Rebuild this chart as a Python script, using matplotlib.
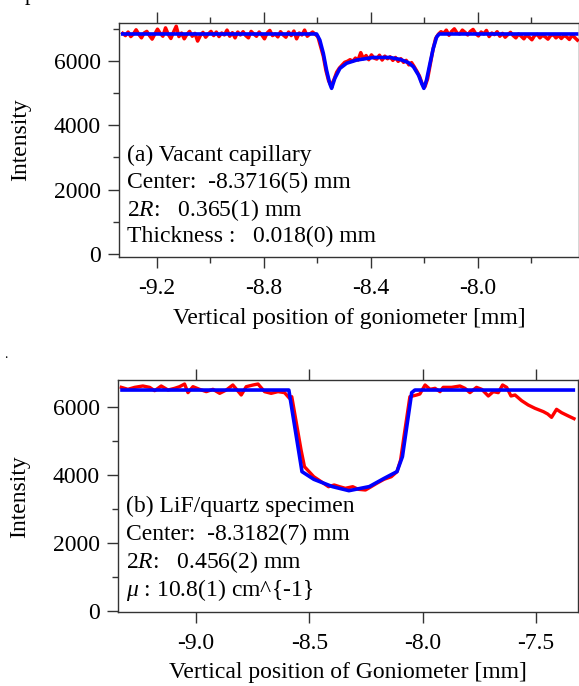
import numpy as np
import matplotlib
matplotlib.use("Agg")
import matplotlib.pyplot as plt
from matplotlib.ticker import MultipleLocator

plt.rcParams['font.family'] = ['Liberation Serif', 'DejaVu Serif']
plt.rcParams['axes.unicode_minus'] = False
plt.rcParams['mathtext.fontset'] = 'custom'
plt.rcParams['mathtext.rm'] = 'Liberation Serif'
plt.rcParams['mathtext.it'] = 'Liberation Serif:italic'

# ---------------- Panel (a): vacant capillary ----------------
a_x_start, a_x_end = -9.327, -7.627
a_red_y = [
    6860, 6790, 6900, 6760, 6840, 6970, 6830, 6720, 6870, 6920,
    6790, 6680, 6840, 6990, 6860, 6770, 7030, 6830, 6700, 6900,
    7080, 6760, 6870, 6690, 6830, 6920, 6770, 6860, 6620, 6790,
    6890, 6740, 6840, 6920, 6790, 6900, 6760, 6870, 6810, 6960,
    6770, 6880, 6720, 6900, 6810, 6910, 6790, 6720, 6920, 6840,
    6770, 6900, 6810, 6690, 6870, 6950, 6790, 6840, 6750, 6910,
    6810, 6740, 6900, 6790, 6930, 6690, 6870, 6810, 6960, 6770,
    6840, 6900, 6830,
    6750, 6450, 6150, 5700, 5380, 5250, 5420, 5650, 5780, 5870,
    5960, 5990, 6040, 5990, 6090, 6030, 6260, 6070, 6170, 6040,
    6190, 6090, 6060, 6180, 6030, 6150, 6070, 6130, 6020, 6110,
    5990, 6070, 5960, 6020, 5880, 5950, 5820, 5680, 5520, 5280,
    5200, 5450, 5900, 6350, 6700, 6830,
    6910, 6860, 6960, 6800, 6920, 7000, 6870, 6840, 6960, 6890,
    6810, 6920, 6980, 6850, 6780, 6900, 6840, 6950, 6760, 6870,
    6820, 6910, 6770, 6860, 6740, 6820, 6890, 6790, 6720, 6840,
    6770, 6690, 6810, 6740, 6660, 6790, 6830, 6720, 6800, 6750,
    6680, 6790, 6820, 6720, 6800, 6700, 6790, 6750, 6670, 6800,
    6730, 6650,
]
a_red_x = np.linspace(a_x_start, a_x_end, len(a_red_y))

a_fit_x = [-9.327, -8.602, -8.590, -8.577, -8.565, -8.553, -8.546, -8.534,
           -8.515, -8.490, -8.452, -8.390, -8.328, -8.290, -8.259, -8.240,
           -8.221, -8.209, -8.201, -8.191, -8.178, -8.166, -8.153, -8.143,
           -7.630]
a_fit_y = [6840, 6840, 6650, 6240, 5720, 5300, 5150, 5460,
           5770, 5930, 6030, 6110, 6110, 6050, 5950, 5820,
           5560, 5300, 5150, 5410, 5930, 6390, 6750, 6840,
           6840]

a_xticks = [-9.2, -8.8, -8.4, -8.0]
a_xticklabels = ["-9.2", "-8.8", "-8.4", "-8.0"]
a_yticks = [0, 2000, 4000, 6000]
a_yticklabels = ["0", "2000", "4000", "6000"]
a_lines = ["(a) Vacant capillary", "Center:  -8.3716(5) mm",
           "2$R$:   0.365(1) mm", "Thickness :   0.018(0) mm"]

# ---------------- Panel (b): LiF/quartz specimen ----------------
b_red_x = [-9.329, -9.300, -9.270, -9.234, -9.204, -9.182, -9.153, -9.123,
           -9.094, -9.072, -9.050, -9.035, -9.013, -8.984, -8.954, -8.925,
           -8.895, -8.866, -8.837, -8.800, -8.778, -8.748, -8.726, -8.697,
           -8.668, -8.638, -8.609, -8.587, -8.577, -8.536, -8.521, -8.480,
           -8.447, -8.415, -8.390, -8.366, -8.341, -8.308, -8.284, -8.252,
           -8.227, -8.202, -8.170, -8.138, -8.113, -8.097, -8.080, -8.056,
           -8.026, -8.012, -7.989, -7.967, -7.945, -7.923, -7.909, -7.872,
           -7.835, -7.813, -7.791, -7.762, -7.739, -7.710, -7.688, -7.666,
           -7.647, -7.629, -7.610, -7.592, -7.563, -7.534, -7.504, -7.467,
           -7.448, -7.431, -7.409, -7.387, -7.357, -7.332]
b_red_y = [6569, 6511, 6569, 6609, 6569, 6471, 6609, 6491,
           6540, 6589, 6667, 6413, 6589, 6511, 6442, 6511,
           6393, 6491, 6638, 6344, 6589, 6638, 6667, 6442,
           6393, 6442, 6413, 6246, 6294, 4727, 4235, 3941,
           3794, 3647, 3697, 3647, 3600, 3647, 3570, 3550,
           3647, 3747, 3865, 3941, 4088, 4432, 5218, 6294,
           6344, 6373, 6638, 6511, 6540, 6442, 6569, 6569,
           6609, 6540, 6413, 6569, 6511, 6315, 6442, 6413,
           6638, 6569, 6315, 6344, 6177, 6050, 5952, 5854,
           5785, 5687, 5923, 5825, 5727, 5648]

b_fit_x = [-9.326, -8.590, -8.532, -8.480, -8.398, -8.325, -8.235, -8.170,
           -8.113, -8.089, -8.048, -8.034, -7.335]
b_fit_y = [6490, 6490, 4090, 3865, 3650, 3530, 3650, 3890,
           4090, 4530, 6413, 6490, 6490]

b_xticks = [-9.0, -8.5, -8.0, -7.5]
b_xticklabels = ["-9.0", "-8.5", "-8.0", "-7.5"]
b_yticks = [0, 2000, 4000, 6000]
b_yticklabels = ["0", "2000", "4000", "6000"]
b_lines = ["(b) LiF/quartz specimen", "Center:  -8.3182(7) mm",
           "2$R$:   0.456(2) mm", "$\\mu$ : 10.8(1) cm^{-1}"]

W, H = 579, 686
fig = plt.figure(figsize=(W / 100, H / 100), dpi=100)

FS = 17
spine_col = "#333333"


def style_axes(ax, xticks, xlabels, yticks, ylabels, xminor):
    ax.set_xticks(xticks)
    ax.set_xticklabels(xlabels)
    ax.set_yticks(yticks)
    ax.set_yticklabels(ylabels)
    if xminor:
        ax.xaxis.set_minor_locator(MultipleLocator(xminor))
    ax.yaxis.set_minor_locator(MultipleLocator(1000))
    ax.tick_params(axis='both', which='major', direction='out', length=8,
                   width=1.0, color=spine_col, labelsize=FS)
    ax.tick_params(axis='both', which='minor', direction='out', length=4.5,
                   width=1.0, color=spine_col)
    ax.tick_params(axis='x', which='both', top=True, bottom=True, pad=7)
    ax.tick_params(axis='y', which='both', left=True, right=False, pad=5)
    for s in ax.spines.values():
        s.set_color(spine_col)
        s.set_linewidth(1.0)


# Panel (a)
ax1 = fig.add_axes([119 / W, 1 - 256.7 / H, (578.7 - 119) / W, (256.7 - 23.3) / H])
ax1.plot(a_red_x, a_red_y, color="#ff0000", lw=2.5, solid_joinstyle='round')
ax1.plot(a_fit_x, a_fit_y, color="#0000ff", lw=2.6, solid_joinstyle='round')
ax1.set_xlim(-9.341, -7.622)
ax1.set_ylim(-84, 7172)
style_axes(ax1, a_xticks, a_xticklabels, a_yticks, a_yticklabels, 0.2)
ax1.set_xlabel("Vertical position of goniometer [mm]", fontsize=FS, va='center')
ax1.xaxis.set_label_coords(0.5, -0.263)
ax1.set_ylabel("Intensity", fontsize=FS, va='center')
ax1.yaxis.set_label_coords(-0.215, 0.5)
for i, t in enumerate(a_lines):
    fig.text(127 / W, 1 - (155 + 27.3 * i) / H, t, fontsize=FS, va='center', ha='left')

# Panel (b)
ax2 = fig.add_axes([117.7 / W, 1 - 612.3 / H, (578.3 - 117.7) / W, (612.3 - 380) / H])
ax2.plot(b_red_x, b_red_y, color="#ff0000", lw=2.4, solid_joinstyle='round')
ax2.plot(b_fit_x, b_fit_y, color="#0000ff", lw=2.6, solid_joinstyle='round')
ax2.set_xlim(-9.345, -7.313)
ax2.set_ylim(-47, 6785)
style_axes(ax2, b_xticks, b_xticklabels, b_yticks, b_yticklabels, None)
ax2.set_xlabel("Vertical position of Goniometer [mm]", fontsize=FS, va='center')
ax2.xaxis.set_label_coords(0.5, -0.261)
ax2.set_ylabel("Intensity", fontsize=FS, va='center')
ax2.yaxis.set_label_coords(-0.212, 0.498)
for i, t in enumerate(b_lines):
    fig.text(125.6 / W, 1 - (506.7 + 27.7 * i) / H, t, fontsize=FS, va='center', ha='left')

# small stray marks seen in the reference
fig.text(0.043, 1.0, "p", fontsize=16, va='baseline', ha='left')
fig.text(4 / W, 1 - 358 / H, ".", fontsize=10, va='baseline', ha='left')

fig.savefig("out.png", dpi=100)
